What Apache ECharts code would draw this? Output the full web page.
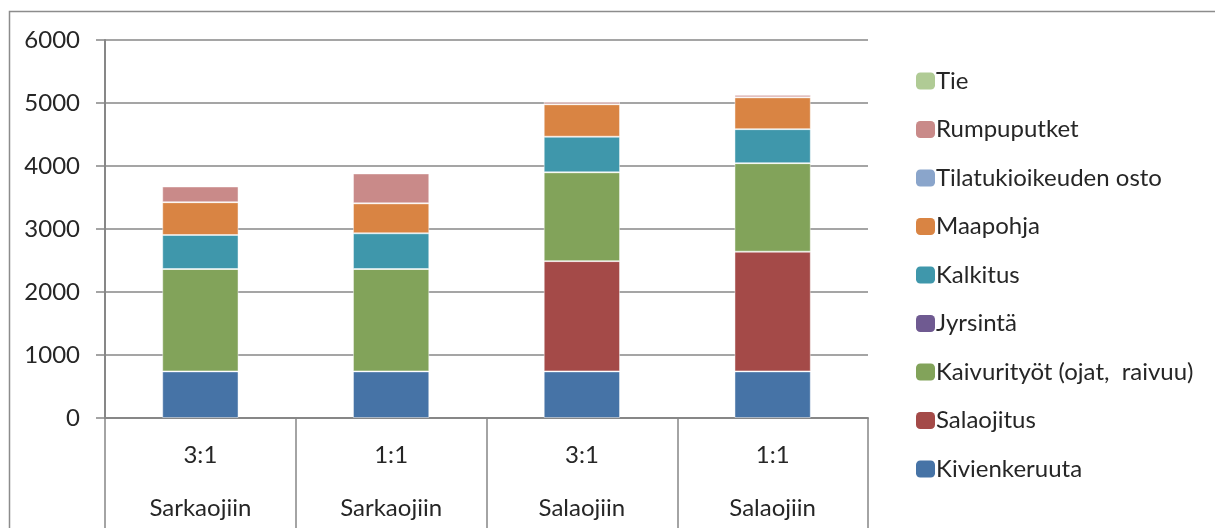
<!DOCTYPE html>
<html>
<head>
<meta charset="utf-8">
<script src="https://cdn.jsdelivr.net/npm/echarts@6/dist/echarts.min.js"></script>
<style>
  html, body { margin: 0; padding: 0; background: #fff; }
  #chart { width: 1215px; height: 528px; }
</style>
</head>
<body>
<div id="chart"></div>
<script>
// Kustannukset neljällä vaihtoehdolla, pinottuina kustannuslajeittain
const ratios = ['3:1', '1:1', '3:1', '1:1'];
const groups = ['Sarkaojiin', 'Sarkaojiin', 'Salaojiin', 'Salaojiin'];

const kivienkeruuta = [740, 740, 740, 740];
const salaojitus = [0, 0, 1750, 1900];
const kaivurityot = [1625, 1625, 1410, 1405];
const jyrsinta = [0, 0, 0, 0];
const kalkitus = [540, 567, 565, 540];
const maapohja = [520, 475, 515, 505];
const tilatukioikeus = [0, 0, 0, 0];
const rumpuputket = [250, 475, 40, 40];
const tie = [0, 0, 0, 0];

const yTicks = { min: 0, max: 6000, interval: 1000 };

const FONT = 'Lato';
const FS = 24;
const TEXT = '#262626';
const LINE = '#878787';

const seriesDefs = [
  ['Kivienkeruuta', kivienkeruuta, '#4673A6'],
  ['Salaojitus', salaojitus, '#A44A48'],
  ['Kaivurityöt (ojat,  raivuu)', kaivurityot, '#82A35A'],
  ['Jyrsintä', jyrsinta, '#6F5A91'],
  ['Kalkitus', kalkitus, '#3F97AB'],
  ['Maapohja', maapohja, '#D98443'],
  ['Tilatukioikeuden osto', tilatukioikeus, '#8AA5CB'],
  ['Rumpuputket', rumpuputket, '#C98A89'],
  ['Tie', tie, '#B0CB95']
];

const chart = echarts.init(document.getElementById('chart'));

chart.setOption({
  animation: false,
  backgroundColor: '#fff',
  textStyle: { fontFamily: FONT, color: TEXT },
  graphic: [{
    type: 'rect',
    silent: true,
    shape: { x: 9.5, y: 11.5, width: 1400, height: 700 },
    style: { fill: 'none', stroke: '#8c8c8c', lineWidth: 1.5 }
  }],
  grid: { left: 105, right: 347, top: 40, bottom: 110, containLabel: false },
  legend: {
    orient: 'vertical',
    left: 911,
    top: 64,
    itemWidth: 19,
    itemHeight: 17,
    itemGap: 24.5,
    itemStyle: { borderWidth: 0 },
    textStyle: { fontFamily: FONT, fontSize: FS, lineHeight: FS, color: TEXT, padding: [0, 0, 0, -4] },
    data: seriesDefs.map(s => s[0]).reverse()
  },
  xAxis: [{
    type: 'category',
    data: ratios,
    position: 'bottom',
    axisLine: { lineStyle: { color: LINE, width: 2 } },
    axisTick: { show: true, interval: 0, length: 115, lineStyle: { color: LINE, width: 1.5 } },
    axisLabel: { interval: 0, margin: 25, fontSize: FS, color: TEXT, fontFamily: FONT }
  }, {
    type: 'category',
    data: groups,
    position: 'bottom',
    offset: 0,
    axisLine: { show: false },
    axisTick: { show: false },
    axisLabel: { interval: 0, margin: 78, fontSize: FS, color: TEXT, fontFamily: FONT }
  }],
  yAxis: {
    type: 'value',
    min: yTicks.min,
    max: yTicks.max,
    interval: yTicks.interval,
    axisLine: { show: true, lineStyle: { color: LINE, width: 2 } },
    axisTick: { show: true, length: 9, lineStyle: { color: LINE, width: 1.5 } },
    axisLabel: { margin: 25, fontSize: FS, color: TEXT, fontFamily: FONT, formatter: v => String(v) },
    splitLine: { lineStyle: { color: LINE, width: 1.5 } }
  },
  series: seriesDefs.map(([name, values, color]) => ({
    name,
    type: 'bar',
    stack: 'cost',
    xAxisIndex: 0,
    barWidth: '40%',
    data: values,
    itemStyle: { color, borderColor: 'rgba(255,255,255,0.45)', borderWidth: 1 }
  }))
});
</script>
</body>
</html>
